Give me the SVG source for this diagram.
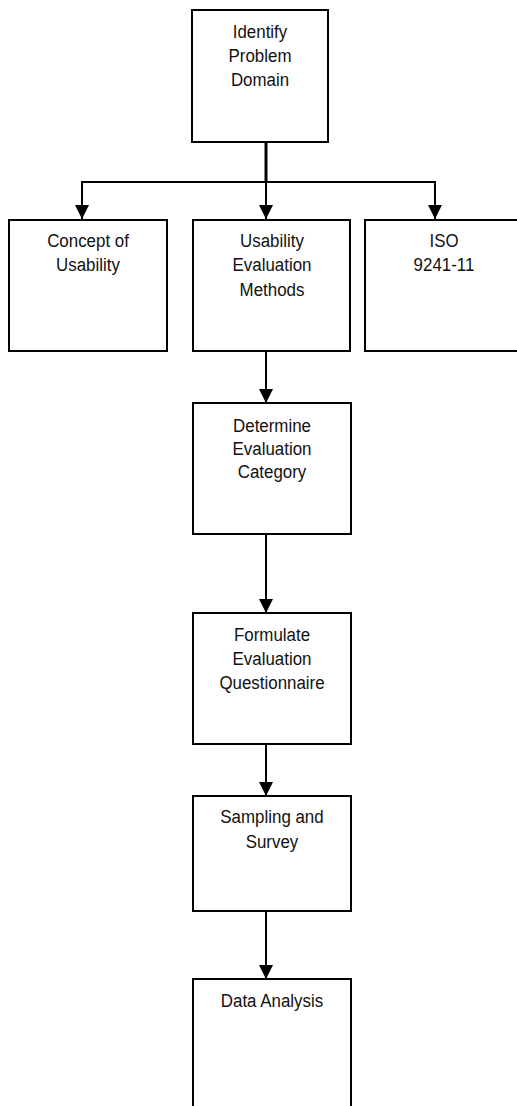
<svg xmlns="http://www.w3.org/2000/svg" width="517" height="1106" viewBox="0 0 517 1106">
<style>
.box{fill:#fff;stroke:#000;stroke-width:2}
.t{font-family:"Liberation Sans",Arial,sans-serif;font-size:19px;fill:#111;text-anchor:middle}
.c{stroke:#000;stroke-width:2;fill:none}
</style>
<defs>
<marker id="ah" markerUnits="userSpaceOnUse" markerWidth="14" markerHeight="14" refX="14" refY="7" orient="auto" viewBox="0 0 14 14">
<path d="M0,0 L14,7 L0,14 z" fill="#000"/>
</marker>
</defs>
<rect width="517" height="1106" fill="#fff"/>
<g id="connectors">
<line class="c" x1="266" y1="142" x2="266" y2="182" style="stroke-width:3"/>
<line class="c" x1="81" y1="182" x2="436" y2="182"/>
<line class="c" x1="82" y1="182" x2="82" y2="219" marker-end="url(#ah)"/>
<line class="c" x1="266" y1="182" x2="266" y2="219" marker-end="url(#ah)"/>
<line class="c" x1="435" y1="182" x2="435" y2="219" marker-end="url(#ah)"/>
<line class="c" x1="266" y1="351" x2="266" y2="403" marker-end="url(#ah)"/>
<line class="c" x1="266" y1="534" x2="266" y2="613" marker-end="url(#ah)"/>
<line class="c" x1="266" y1="744" x2="266" y2="796" marker-end="url(#ah)"/>
<line class="c" x1="266" y1="911" x2="266" y2="979" marker-end="url(#ah)"/>
</g>
<g id="identify">
<rect class="box" x="192" y="10" width="136" height="132"/>
<text class="t" transform="translate(260,38) scale(0.89,1)">Identify</text>
<text class="t" transform="translate(260,62) scale(0.89,1)">Problem</text>
<text class="t" transform="translate(260,86) scale(0.89,1)">Domain</text>
</g>
<g id="concept">
<rect class="box" x="9" y="220" width="158" height="131"/>
<text class="t" transform="translate(88,247) scale(0.89,1)">Concept of</text>
<text class="t" transform="translate(88,271) scale(0.89,1)">Usability</text>
</g>
<g id="methods">
<rect class="box" x="193" y="220" width="157" height="131"/>
<text class="t" transform="translate(272,247) scale(0.89,1)">Usability</text>
<text class="t" transform="translate(272,271) scale(0.89,1)">Evaluation</text>
<text class="t" transform="translate(272,296) scale(0.89,1)">Methods</text>
</g>
<g id="iso">
<rect class="box" x="365" y="220" width="158" height="131"/>
<text class="t" transform="translate(444,247) scale(0.89,1)">ISO</text>
<text class="t" transform="translate(444,271) scale(0.89,1)">9241-11</text>
</g>
<g id="category">
<rect class="box" x="193" y="403" width="158" height="131"/>
<text class="t" transform="translate(272,432) scale(0.89,1)">Determine</text>
<text class="t" transform="translate(272,455) scale(0.89,1)">Evaluation</text>
<text class="t" transform="translate(272,478) scale(0.89,1)">Category</text>
</g>
<g id="questionnaire">
<rect class="box" x="193" y="613" width="158" height="131"/>
<text class="t" transform="translate(272,641) scale(0.89,1)">Formulate</text>
<text class="t" transform="translate(272,665) scale(0.89,1)">Evaluation</text>
<text class="t" transform="translate(272,689) scale(0.89,1)">Questionnaire</text>
</g>
<g id="sampling">
<rect class="box" x="193" y="796" width="158" height="115"/>
<text class="t" transform="translate(272,823) scale(0.89,1)">Sampling and</text>
<text class="t" transform="translate(272,848) scale(0.89,1)">Survey</text>
</g>
<g id="analysis">
<rect class="box" x="193" y="979" width="158" height="140"/>
<text class="t" transform="translate(272,1007) scale(0.89,1)">Data Analysis</text>
</g>
</svg>
